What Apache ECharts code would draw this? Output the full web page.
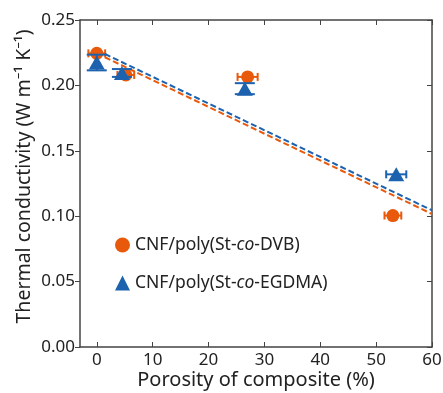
<!DOCTYPE html>
<html>
<head>
<meta charset="utf-8">
<script src="https://cdn.jsdelivr.net/npm/echarts@6/dist/echarts.min.js"></script>
<style>
  html, body { margin: 0; padding: 0; background: #fff; }
  #chart { width: 443px; height: 393px; }
</style>
</head>
<body>
<div id="chart"></div>
<script>
// 数据: 孔隙率 vs 导热系数
const xTicks = [0, 10, 20, 30, 40, 50, 60];

const dvbX = [0, 5.2, 27, 53];
const dvbY = [0.2245, 0.208, 0.2065, 0.1005];
const dvbXErr = [1.5, 1.5, 1.8, 1.5];
const dvbYErr = [0, 0, 0, 0];

const egdmaX = [0, 4.5, 26.5, 53.6];
const egdmaY = [0.2175, 0.2095, 0.1975, 0.132];
const egdmaXErr = [0, 0, 0, 1.8];
const egdmaYErr = [0.006, 0.003, 0.0042, 0];

// 拟合直线 (虚线)
const fitX = [0, 60];
const dvbFit = [0.2245, 0.1017];
const egdmaFit = [0.227, 0.1045];

const orange = "#E8590C";
const blue = "#1C62AE";
const textColor = "#222";
const axisColor = "#444";
const font = "Noto Sans";

const nameDvb = "CNF/poly(St-co-DVB)";
const nameEgdma = "CNF/poly(St-co-EGDMA)";

const zip = (xs, ys) => xs.map((x, i) => [x, ys[i]]);
const zip4 = (xs, ys, ex, ey) => xs.map((x, i) => [x, ys[i], ex[i], ey[i]]);

// 误差棒
function errorBars(color, xCap, yCap) {
  return function (params, api) {
    const x = api.value(0), y = api.value(1), ex = api.value(2), ey = api.value(3);
    const style = { stroke: color, lineWidth: 2 };
    const line = (x1, y1, x2, y2) => ({ type: "line", shape: { x1, y1, x2, y2 }, style });
    const children = [];
    if (ex > 0) {
      const l = api.coord([x - ex, y]);
      const r = api.coord([x + ex, y]);
      children.push(line(l[0], l[1], r[0], r[1]));
      children.push(line(l[0], l[1] - xCap, l[0], l[1] + xCap));
      children.push(line(r[0], r[1] - xCap, r[0], r[1] + xCap));
    }
    if (ey > 0) {
      const lo = api.coord([x, y - ey]);
      const hi = api.coord([x, y + ey]);
      children.push(line(lo[0], lo[1], hi[0], hi[1]));
      children.push(line(lo[0] - yCap, lo[1], lo[0] + yCap, lo[1]));
      children.push(line(hi[0] - yCap, hi[1], hi[0] + yCap, hi[1]));
    }
    return { type: "group", children };
  };
}

const chart = echarts.init(document.getElementById("chart"));

const boxLine = { show: true, onZero: false, lineStyle: { color: axisColor, width: 1.5 } };

chart.setOption({
  animation: false,
  textStyle: { fontFamily: font, color: textColor },
  grid: { left: 80, right: 11, top: 20, bottom: 46, outerBoundsMode: "none", containLabel: false },
  legend: {
    orient: "vertical",
    left: 110,
    top: 231,
    itemGap: 20,
    itemWidth: 15,
    itemHeight: 15,
    data: [
      { name: nameDvb, icon: "circle" },
      { name: nameEgdma, icon: "triangle" },
    ],
    formatter: (name) => {
      const parts = name.split("-co-");
      return "{n|" + parts[0] + "-}{i|co}{n|-" + parts[1] + "}";
    },
    textStyle: {
      rich: {
        n: { fontFamily: font, fontSize: 17.5, color: textColor },
        i: { fontFamily: font, fontSize: 17.5, color: textColor, fontStyle: "italic" },
      },
    },
  },
  xAxis: [
    {
      type: "value",
      min: -3,
      max: 60,
      name: "Porosity of composite (%)",
      nameLocation: "middle",
      nameGap: 23,
      nameMoveOverlap: false,
      nameTextStyle: { fontSize: 20, color: textColor },
      axisLine: boxLine,
      axisTick: { show: true, inside: true, length: 5, customValues: xTicks, lineStyle: { color: axisColor } },
      axisLabel: { customValues: xTicks, fontSize: 17, color: textColor, margin: 5 },
      splitLine: { show: false },
    },
    {
      type: "value",
      position: "top",
      min: -3,
      max: 60,
      axisLine: boxLine,
      axisTick: { show: true, inside: true, length: 5, customValues: xTicks, lineStyle: { color: axisColor } },
      axisLabel: { show: false },
      splitLine: { show: false },
    },
  ],
  yAxis: [
    {
      type: "value",
      min: 0,
      max: 0.25,
      interval: 0.05,
      name: "Thermal conductivity (W m\u207B\u00B9 K\u207B\u00B9)",
      nameLocation: "middle",
      nameGap: 46,
      nameMoveOverlap: false,
      nameTextStyle: { fontSize: 19.5, color: textColor, padding: [0, 0, 0, 14] },
      axisLine: boxLine,
      axisTick: { show: true, length: 5, lineStyle: { color: axisColor } },
      axisLabel: { fontSize: 17, color: textColor, margin: 5, formatter: (v) => v.toFixed(2) },
      splitLine: { show: false },
    },
    {
      type: "value",
      position: "right",
      min: 0,
      max: 0.25,
      interval: 0.05,
      axisLine: boxLine,
      axisTick: { show: true, inside: true, length: 5, lineStyle: { color: axisColor } },
      axisLabel: { show: false },
      splitLine: { show: false },
    },
  ],
  series: [
    {
      name: "fitDvb",
      type: "line",
      data: zip(fitX, dvbFit),
      symbol: "none",
      lineStyle: { color: orange, width: 2, type: [6, 3] },
      silent: true,
    },
    {
      name: "fitEgdma",
      type: "line",
      data: zip(fitX, egdmaFit),
      symbol: "none",
      lineStyle: { color: blue, width: 2, type: [6, 3] },
      silent: true,
    },
    {
      type: "custom",
      renderItem: errorBars(orange, 4, 9),
      data: zip4(dvbX, dvbY, dvbXErr, dvbYErr),
      encode: { x: 0, y: 1 },
      z: 3,
    },
    {
      name: nameDvb,
      type: "scatter",
      data: zip(dvbX, dvbY),
      symbol: "circle",
      symbolSize: 13,
      itemStyle: { color: orange, opacity: 1 },
      z: 4,
    },
    {
      type: "custom",
      renderItem: errorBars(blue, 4, 10),
      data: zip4(egdmaX, egdmaY, egdmaXErr, egdmaYErr),
      encode: { x: 0, y: 1 },
      z: 5,
    },
    {
      name: nameEgdma,
      type: "scatter",
      data: zip(egdmaX, egdmaY),
      symbol: "triangle",
      symbolSize: [16, 14],
      itemStyle: { color: blue, opacity: 1 },
      z: 6,
    },
  ],
});
</script>
</body>
</html>
